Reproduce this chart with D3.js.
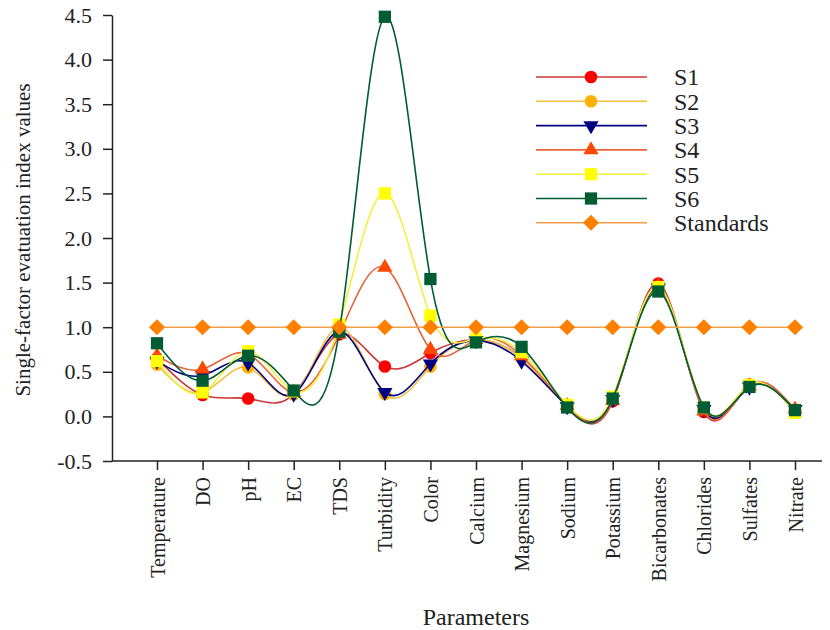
<!DOCTYPE html>
<html lang="en">
<head>
	<meta charset="UTF-8">
	<title>Single-factor evaluation index</title>
	<script src="https://cdn.jsdelivr.net/npm/d3@7"></script>
	<style>
		body{
			margin:0;
			background:white;
		}
		svg{
			font-family:"Liberation Serif","Times New Roman",serif;
		}
		.axis path,.axis line{
			stroke:#222;
			stroke-width:1.5;
		}
		.axis text{
			font-family:"Liberation Serif","Times New Roman",serif;
			font-size:20px;
			fill:#222;
		}
	</style>
</head>
<body>
	<svg width="830" height="630"></svg>
	<script>
		var params = ["Temperature","DO","pH","EC","TDS","Turbidity","Color","Calcium","Magnesium","Sodium","Potassium","Bicarbonates","Chlorides","Sulfates","Nitrate"];
		var yTicks = [-0.5,0,0.5,1,1.5,2,2.5,3,3.5,4,4.5];

		var s1 = [0.65,0.24,0.20,0.25,0.92,0.56,0.71,0.86,0.66,0.11,0.17,1.49,0.05,0.35,0.07];
		var s2 = [0.58,0.27,0.55,0.25,1.00,0.25,0.56,0.86,0.65,0.12,0.20,1.45,0.08,0.36,0.04];
		var s3 = [0.62,0.46,0.60,0.25,0.95,0.27,0.59,0.85,0.62,0.11,0.19,1.44,0.08,0.33,0.08];
		var s4 = [0.68,0.53,0.70,0.27,0.92,1.67,0.75,0.86,0.68,0.12,0.18,1.46,0.06,0.34,0.08];
		var s5 = [0.62,0.27,0.73,0.28,1.03,2.50,1.13,0.87,0.72,0.13,0.22,1.45,0.10,0.35,0.04];
		var s6 = [0.82,0.40,0.68,0.29,0.95,4.48,1.54,0.83,0.78,0.10,0.20,1.40,0.10,0.33,0.07];
		var standards = [1,1,1,1,1,1,1,1,1,1,1,1,1,1,1];

		var series = [
			{name:"S1",values:s1,line:"#cc3838",fill:"#ff0000",shape:"circle"},
			{name:"S2",values:s2,line:"#f2c040",fill:"#ffb000",shape:"circle"},
			{name:"S3",values:s3,line:"#000080",fill:"#000080",shape:"down"},
			{name:"S4",values:s4,line:"#e8643c",fill:"#ff4800",shape:"up"},
			{name:"S5",values:s5,line:"#f2f040",fill:"#ffff00",shape:"square"},
			{name:"S6",values:s6,line:"#005c32",fill:"#005c32",shape:"square"},
			{name:"Standards",values:standards,line:"#f0a048",fill:"#ff8000",shape:"diamond"}
		];

		var svg = d3.select("svg");

		var x = d3.scalePoint().domain(params).range([157,795]);
		var y = d3.scaleLinear().domain([-0.5,4.5]).range([461,15]);

		// axes
		var gx = svg.append("g").attr("class","axis")
			.attr("transform","translate(0,461)")
			.call(d3.axisBottom(x).tickSize(9).tickSizeOuter(0));
		gx.select(".domain").attr("d","M112,0H822");
		gx.selectAll("text")
			.attr("transform","rotate(-90)")
			.attr("text-anchor","end")
			.attr("x",-16)
			.attr("y",0)
			.attr("dy","0.35em");

		var gy = svg.append("g").attr("class","axis")
			.attr("transform","translate(112,0)")
			.call(d3.axisLeft(y).tickValues(yTicks)
				.tickFormat(function(d){ return d.toFixed(1); })
				.tickSize(9).tickSizeOuter(0));
		gy.selectAll("text").attr("x",-20).style("font-size","22px");

		svg.append("text")
			.attr("transform","translate(30,240) rotate(-90)")
			.attr("text-anchor","middle")
			.style("font-size","21px")
			.attr("fill","#222")
			.text("Single-factor evatuation index values");

		svg.append("text")
			.attr("x",476)
			.attr("y",625)
			.attr("text-anchor","middle")
			.style("font-size","24px")
			.attr("fill","#222")
			.text("Parameters");

		function symbolPath(shape){
			if(shape=="circle") return d3.symbol(d3.symbolCircle,125)();
			if(shape=="square") return d3.symbol(d3.symbolSquare,150)();
			if(shape=="up") return d3.symbol(d3.symbolTriangle,100)();
			if(shape=="down") return d3.symbol(d3.symbolTriangle,100)();
			return d3.symbol(d3.symbolSquare,130)();
		}
		function symbolRotate(shape){
			if(shape=="down") return " rotate(180)";
			if(shape=="diamond") return " rotate(45)";
			return "";
		}

		var line = d3.line()
			.x(function(d,i){ return x(params[i]); })
			.y(function(d){ return y(d); })
			.curve(d3.curveNatural);

		var g_series = svg.selectAll(".series")
			.data(series)
			.enter().append("g")
			.attr("class","series");

		g_series.append("path")
			.attr("d",function(d){ return line(d.values); })
			.attr("fill","none")
			.attr("stroke",function(d){ return d.line; })
			.attr("stroke-width",1.6);

		g_series.each(function(s){
			d3.select(this).selectAll(".pt")
				.data(s.values)
				.enter().append("path")
				.attr("class","pt")
				.attr("d",symbolPath(s.shape))
				.attr("fill",s.fill)
				.attr("transform",function(d,i){
					return "translate("+x(params[i])+","+y(d)+")"+symbolRotate(s.shape);
				});
		});

		// legend
		var legend = svg.append("g").attr("class","legend");
		var rows = legend.selectAll("g")
			.data(series)
			.enter().append("g")
			.attr("transform",function(d,i){ return "translate(0,"+(77+i*24.3)+")"; });
		rows.append("line")
			.attr("x1",536).attr("x2",647)
			.attr("stroke",function(d){ return d.line; })
			.attr("stroke-width",1.6);
		rows.append("path")
			.attr("d",function(d){ return symbolPath(d.shape); })
			.attr("fill",function(d){ return d.fill; })
			.attr("transform",function(d){ return "translate(591,0)"+symbolRotate(d.shape); });
		rows.append("text")
			.attr("x",674)
			.attr("dy","0.35em")
			.style("font-size","24px")
			.attr("fill","#222")
			.text(function(d){ return d.name; });
	</script>
</body>
</html>
